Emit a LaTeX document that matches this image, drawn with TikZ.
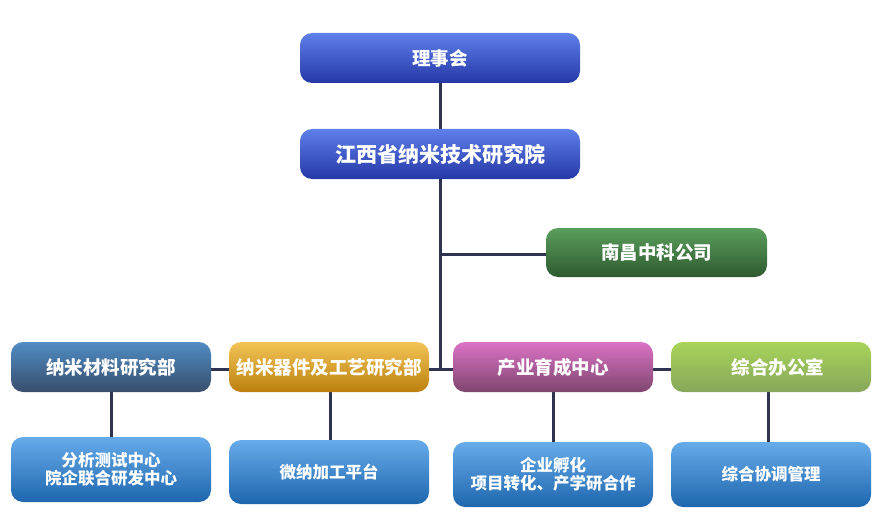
\documentclass[tikz,border=0pt]{standalone}
\usepackage{fontspec}
\newfontfamily\cjk{Noto Sans CJK SC}
\usetikzlibrary{backgrounds}
\definecolor{linec}{HTML}{30334F}
\tikzset{
  box/.style={rectangle, rounded corners=12pt, inner sep=0pt, align=center, text=white,
    minimum width=200pt, minimum height=50pt, font=\cjk\bfseries\fontsize{18.5}{20}\selectfont},
  topbox/.style={box, minimum width=280pt, top color=c1t, bottom color=c1b},
  leafbox/.style={box, minimum height=65pt, top color=lbt, bottom color=lbb,
    font=\cjk\bfseries\fontsize{16.5}{18}\selectfont},
  conn/.style={draw=linec, line width=3pt}
}
\definecolor{c1t}{HTML}{5E7FEA}
\definecolor{c1b}{HTML}{2538A6}
\definecolor{gt}{HTML}{5A9E5C}
\definecolor{gb}{HTML}{2E5A30}
\definecolor{mt}{HTML}{508CC4}
\definecolor{mb}{HTML}{384E6C}
\definecolor{ot}{HTML}{F2C456}
\definecolor{ob}{HTML}{BC800E}
\definecolor{pt}{HTML}{DC72C6}
\definecolor{pb}{HTML}{7E466E}
\definecolor{yt}{HTML}{A8D45A}
\definecolor{yb}{HTML}{86A65A}
\definecolor{lbt}{HTML}{66ABEA}
\definecolor{lbb}{HTML}{1E66AE}
\begin{document}
\begin{tikzpicture}[x=1pt,y=-1pt]
\useasboundingbox (0,0) rectangle (880,532);
\node[topbox] (board) at (440,58) {理事会};
\node[topbox, font=\cjk\bfseries\fontsize{21}{23}\selectfont] (inst) at (440,154) {江西省纳米技术研究院};
\node[box, minimum width=221pt, minimum height=49pt, top color=gt, bottom color=gb] (comp) at (656.5,252.5) {南昌中科公司};
\node[box, top color=mt, bottom color=mb] (mat) at (111,367) {纳米材料研究部};
\node[box, top color=ot, bottom color=ob] (dev) at (329,367) {纳米器件及工艺研究部};
\node[box, top color=pt, bottom color=pb] (inc) at (553,367) {产业育成中心};
\node[box, top color=yt, bottom color=yb] (off) at (771,367) {\hspace*{14pt}综合办公室};
\node[leafbox] (ana) at (111,469.5) {分析测试中心\\院企联合研发中心};
\node[leafbox, minimum height=64pt] (nano) at (329,472) {微纳加工平台};
\node[leafbox] (ent) at (553,474.5) {企业孵化\\项目转化、产学研合作};
\node[leafbox] (coord) at (771,474.5) {综合协调管理};
\coordinate (j) at (440,369);
\coordinate (cw) at ([yshift=-1.5pt]comp.west);
\begin{scope}[on background layer]
\draw[conn] (board) -- (inst);
\draw[conn] (inst) -- (j);
\draw[conn] (j |- cw) -- (cw);
\draw[conn] ([yshift=-2pt]mat.east) -- ([yshift=-2pt]dev.west);
\draw[conn] ([yshift=-2pt]dev.east) -- ([yshift=-2pt]inc.west);
\draw[conn] ([yshift=-2pt]inc.east) -- ([yshift=-2pt]off.west);
\draw[conn] (mat.south) -- (mat.south |- ana.north);
\draw[conn] ([xshift=1pt]dev.south) -- ([xshift=1pt]dev.south |- nano.north);
\draw[conn] (inc.south) -- (inc.south |- ent.north);
\draw[conn] ([xshift=-3pt]off.south) -- ([xshift=-3pt]off.south |- coord.north);
\end{scope}
\end{tikzpicture}
\end{document}
